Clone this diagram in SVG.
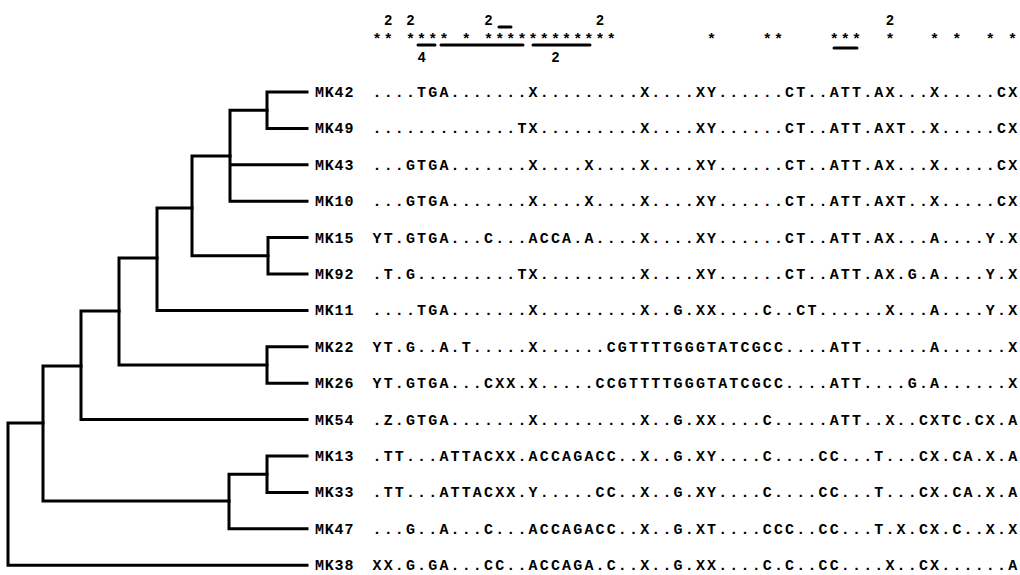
<svg xmlns="http://www.w3.org/2000/svg" width="1020" height="575" viewBox="0 0 1020 575">
<style>
.bg{fill:#fff}
.e{fill:none;stroke:#000;stroke-width:3;stroke-linecap:square;stroke-linejoin:miter}
.lab{font-family:"Liberation Mono","Courier New",monospace;font-weight:bold;font-size:15px;letter-spacing:0.8px;fill:#000}
.seq{font-family:"Liberation Mono","Courier New",monospace;font-weight:bold;font-size:15px;letter-spacing:2.15px;fill:#000}
.st{font-family:"Liberation Mono","Courier New",monospace;font-weight:bold;font-size:15px;fill:#000;text-anchor:middle}
.num{font-family:"Liberation Mono","Courier New",monospace;font-weight:bold;font-size:14px;fill:#000;text-anchor:middle}
.bar{stroke:#000;stroke-width:3;stroke-linecap:round}
</style>
<rect class="bg" x="0" y="0" width="1020" height="575"/>
<g id="header">
<text class="num" x="388.15 410.45 488.5 600 889.9" y="25">22222</text>
<text class="st" x="377 388.15 410.45 421.6 432.75 443.9 466.2 488.5 499.65 510.8 521.95 533.1 544.25 555.4 566.55 577.7 588.85 600 611.15 711.5 767.25 778.4 834.15 845.3 856.45 889.9 934.5 956.8 990.25 1012.55" y="44">******************************</text>
<line class="bar" x1="499" y1="27" x2="511" y2="27"/>
<line class="bar" x1="418" y1="45" x2="435" y2="45"/>
<line class="bar" x1="441" y1="45" x2="523" y2="45"/>
<line class="bar" x1="533" y1="45" x2="590" y2="45"/>
<line class="bar" x1="834" y1="48" x2="857" y2="48"/>
<text class="num" x="421.6 555.4" y="62">42</text>
</g>
<g id="connectors">
<path class="e" d="M8,423 H43 M8,423 V565.2 H307"/>
<path class="e" d="M43,423 V366 H81 M43,423 V501 H229"/>
<path class="e" d="M81,366 V311 H119 M81,366 V419.6 H307"/>
<path class="e" d="M119,311 V258 H157 M119,311 V365 H267"/>
<path class="e" d="M267,365 V346.8 H307 M267,365 V383.2 H307"/>
<path class="e" d="M157,258 V208 H192 M157,258 V310.4 H307"/>
<path class="e" d="M192,208 V156 H230 M192,208 V255.8 H268"/>
<path class="e" d="M268,255.8 V237.6 H307 M268,255.8 V274 H307"/>
<path class="e" d="M230,156 V110.2 H267 M230,156 V164.8 H307 M230,156 V201.2 H307"/>
<path class="e" d="M267,110.2 V92 H307 M267,110.2 V128.4 H307"/>
<path class="e" d="M229,501 V474.2 H267 M229,501 V528.8 H307"/>
<path class="e" d="M267,474.2 V456 H307 M267,474.2 V492.4 H307"/>
</g>
<g id="MK42"><text class="lab" x="315" y="97">MK42</text><text class="seq" x="372.5" y="97">....TGA.......X.........X....XY......CT..ATT.AX...X.....CX</text></g>
<g id="MK49"><text class="lab" x="315" y="133.4">MK49</text><text class="seq" x="372.5" y="133.4">.............TX.........X....XY......CT..ATT.AXT..X.....CX</text></g>
<g id="MK43"><text class="lab" x="315" y="169.8">MK43</text><text class="seq" x="372.5" y="169.8">...GTGA.......X....X....X....XY......CT..ATT.AX...X.....CX</text></g>
<g id="MK10"><text class="lab" x="315" y="206.2">MK10</text><text class="seq" x="372.5" y="206.2">...GTGA.......X....X....X....XY......CT..ATT.AXT..X.....CX</text></g>
<g id="MK15"><text class="lab" x="315" y="242.6">MK15</text><text class="seq" x="372.5" y="242.6">YT.GTGA...C...ACCA.A....X....XY......CT..ATT.AX...A....Y.X</text></g>
<g id="MK92"><text class="lab" x="315" y="279">MK92</text><text class="seq" x="372.5" y="279">.T.G.........TX.........X....XY......CT..ATT.AX.G.A....Y.X</text></g>
<g id="MK11"><text class="lab" x="315" y="315.4">MK11</text><text class="seq" x="372.5" y="315.4">....TGA.......X.........X..G.XX....C..CT......X...A....Y.X</text></g>
<g id="MK22"><text class="lab" x="315" y="351.8">MK22</text><text class="seq" x="372.5" y="351.8">YT.G..A.T.....X......CGTTTTGGGTATCGCC....ATT......A......X</text></g>
<g id="MK26"><text class="lab" x="315" y="388.2">MK26</text><text class="seq" x="372.5" y="388.2">YT.GTGA...CXX.X.....CCGTTTTGGGTATCGCC....ATT....G.A......X</text></g>
<g id="MK54"><text class="lab" x="315" y="424.6">MK54</text><text class="seq" x="372.5" y="424.6">.Z.GTGA.......X.........X..G.XX....C.....ATT..X..CXTC.CX.A</text></g>
<g id="MK13"><text class="lab" x="315" y="461">MK13</text><text class="seq" x="372.5" y="461">.TT...ATTACXX.ACCAGACC..X..G.XY....C....CC...T...CX.CA.X.A</text></g>
<g id="MK33"><text class="lab" x="315" y="497.4">MK33</text><text class="seq" x="372.5" y="497.4">.TT...ATTACXX.Y.....CC..X..G.XY....C....CC...T...CX.CA.X.A</text></g>
<g id="MK47"><text class="lab" x="315" y="533.8">MK47</text><text class="seq" x="372.5" y="533.8">...G..A...C...ACCAGACC..X..G.XT....CCC..CC...T.X.CX.C..X.X</text></g>
<g id="MK38"><text class="lab" x="315" y="570.2">MK38</text><text class="seq" x="372.5" y="570.2">XX.G.GA...CC..ACCAGA.C..X..G.XX....C.C..CC....X..CX......A</text></g>
</svg>
